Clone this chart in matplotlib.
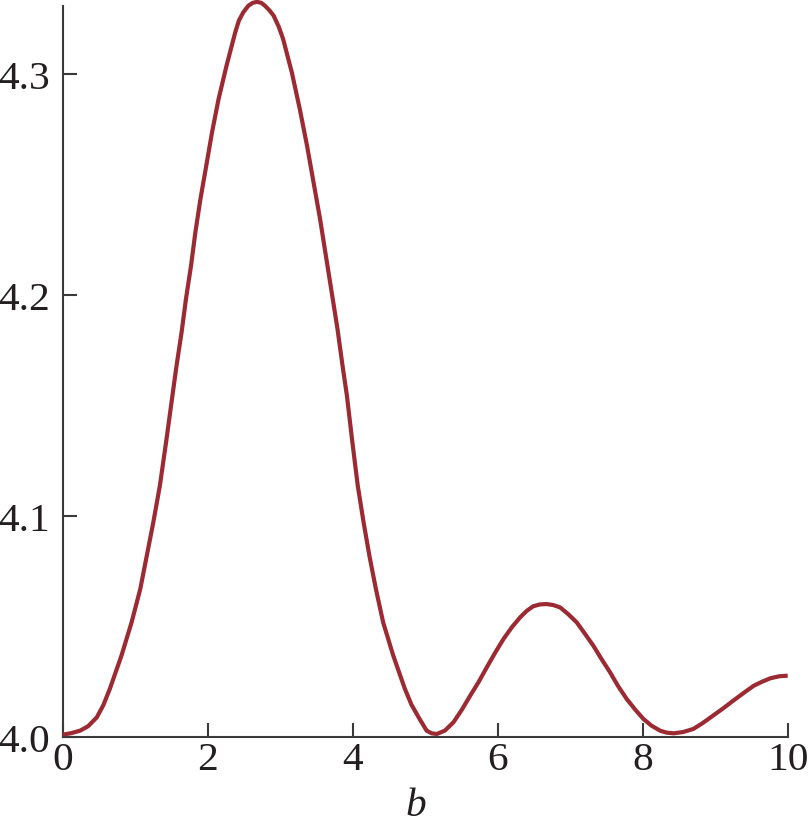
import matplotlib
matplotlib.use("Agg")
import matplotlib.pyplot as plt

# Data
b_values = [0.00, 0.12, 0.24, 0.35, 0.47, 0.56, 0.65, 0.81, 0.95, 1.07, 1.16, 1.25,
            1.34, 1.43, 1.526, 1.57, 1.64, 1.70, 1.77, 1.83, 1.90, 1.98, 2.06, 2.15,
            2.26, 2.38, 2.43, 2.49, 2.56, 2.62, 2.68, 2.74, 2.79, 2.85, 2.91, 2.98,
            3.04, 3.16, 3.27, 3.37, 3.46, 3.55, 3.63, 3.71, 3.79, 3.86, 3.92, 3.99,
            4.07, 4.15, 4.23, 4.32, 4.42, 4.56, 4.72, 4.81, 4.91, 5.02, 5.09, 5.16,
            5.27, 5.39, 5.50, 5.62, 5.74, 5.85, 5.96, 6.08, 6.20, 6.31, 6.40, 6.49,
            6.58, 6.67, 6.76, 6.86, 6.97, 7.09, 7.20, 7.32, 7.43, 7.55, 7.66, 7.78,
            7.90, 8.01, 8.12, 8.24, 8.33, 8.43, 8.56, 8.70, 8.83, 8.97, 9.11, 9.25,
            9.39, 9.53, 9.65, 9.76, 9.88, 10.00]
f_values = [4.0012, 4.0019, 4.0030, 4.0050, 4.0090, 4.0145, 4.0219, 4.0369, 4.0520,
            4.0671, 4.0822, 4.0973, 4.1138, 4.1345, 4.1576, 4.1681, 4.1833, 4.1983,
            4.2134, 4.2285, 4.2436, 4.2586, 4.2738, 4.2888, 4.3039, 4.3190, 4.3243,
            4.3280, 4.3310, 4.3323, 4.3328, 4.3323, 4.3310, 4.3290, 4.3265, 4.3215,
            4.3160, 4.3009, 4.2843, 4.2677, 4.2511, 4.2345, 4.2179, 4.2014, 4.1848,
            4.1681, 4.1546, 4.1350, 4.1138, 4.0973, 4.0822, 4.0671, 4.0520, 4.0369,
            4.0219, 4.0148, 4.0090, 4.0030, 4.0018, 4.0015, 4.0030, 4.0068, 4.0122,
            4.0188, 4.0252, 4.0317, 4.0380, 4.0445, 4.0500, 4.0543, 4.0572, 4.0593,
            4.0601, 4.0603, 4.0599, 4.0588, 4.0558, 4.0520, 4.0470, 4.0414, 4.0355,
            4.0294, 4.0232, 4.0173, 4.0124, 4.0083, 4.0053, 4.0030, 4.0021, 4.0018,
            4.0024, 4.0038, 4.0065, 4.0098, 4.0131, 4.0166, 4.0200, 4.0233, 4.0252,
            4.0267, 4.0276, 4.0279]
x_ticks = [0, 2, 4, 6, 8, 10]
x_tick_labels = ["0", "2", "4", "6", "8", "10"]
y_ticks = [4.0, 4.1, 4.2, 4.3]
y_tick_labels = ["4.0", "4.1", "4.2", "4.3"]
x_label = "b"

plt.rcParams['font.family'] = 'Liberation Serif'

W, H = 809, 828
fig = plt.figure(figsize=(W / 100, H / 100), dpi=100)
left, right = 62.7 / W, 787.7 / W
bottom, top = 1 - 738.3 / H, 1 - 7 / H
ax = fig.add_axes([left, bottom, right - left, top - bottom])

ax.plot(b_values, f_values, color='#9c2a32', lw=3.0, clip_on=False,
        solid_joinstyle='round', solid_capstyle='butt', zorder=3)

ax.set_xlim(0, 10)
ax.set_ylim(4.0, 4.3309)

for s in ['top', 'right']:
    ax.spines[s].set_visible(False)
for s in ['left', 'bottom']:
    ax.spines[s].set_color('#3a3a3a')
    ax.spines[s].set_linewidth(1.5)

ax.set_xticks(x_ticks)
ax.set_xticklabels(x_tick_labels)
ax.set_yticks(y_ticks)
ax.set_yticklabels(y_tick_labels)
ax.tick_params(axis='both', direction='in', length=10, width=1.5, color='#3a3a3a',
               labelsize=29.8, labelcolor='#231f20')
ax.tick_params(axis='x', pad=3)
ax.tick_params(axis='y', pad=9)

ax.set_xlabel(x_label, fontsize=29.8, style='italic', color='#231f20')
ax.xaxis.label.set_va('baseline')
ax.xaxis.set_label_coords(0.487, -0.1062)

fig.savefig('out.png', dpi=100)
